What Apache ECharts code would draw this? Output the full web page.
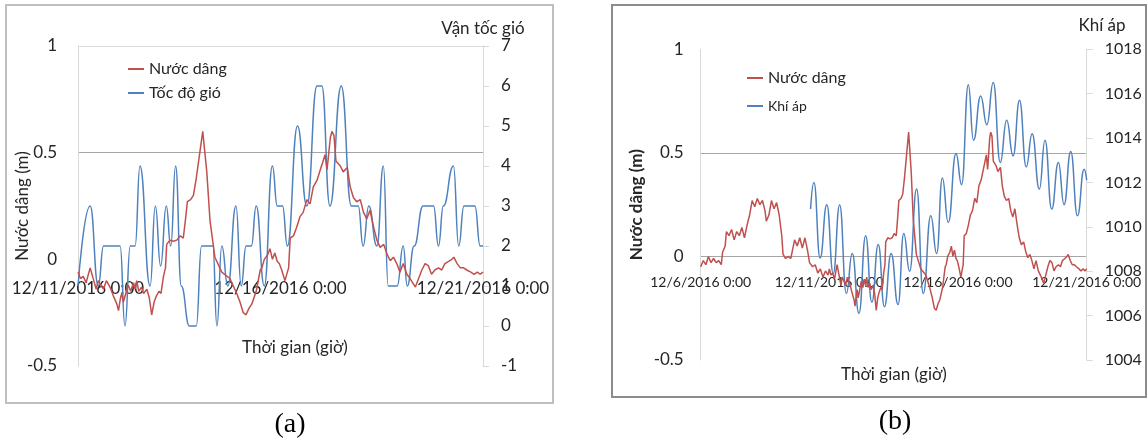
<!DOCTYPE html>
<html><head><meta charset="utf-8">
<script src="https://cdn.jsdelivr.net/npm/echarts@6/dist/echarts.min.js"></script>
<style>html,body{margin:0;padding:0;background:#fff}#c{width:1148px;height:440px}</style>
</head><body><div id="c"></div>
<script>
// x tick labels
const xTickLabelsA = ['12/11/2016 0:00', '12/16/2016 0:00', '12/21/2016 0:00'];
const xTickLabelsB = ['12/6/2016 0:00', '12/11/2016 0:00', '12/16/2016 0:00', '12/21/2016 0:00'];

// Nước dâng (m): days since 12/6/2016 0:00
const surgeDays = [0,0.1,0.2,0.3,0.4,0.5,0.6,0.7,0.8,0.85,0.95,1.0,1.1,1.2,1.3,1.4,1.5,1.6,1.7,1.8,1.9,2.0,2.1,2.2,2.3,2.4,2.5,2.55,2.65,2.75,2.85,2.95,3.05,3.15,3.2,3.3,3.4,3.5,3.6,3.65,3.75,3.85,3.95,4.05,4.15,4.23,4.35,4.45,4.55,4.65,4.75,4.85,4.95,
5,5.06,5.13,5.2,5.3,5.39,5.45,5.5,5.57,5.63,5.7,5.79,5.87,5.96,6.0,6.05,6.08,6.12,6.16,6.24,6.3,6.37,6.41,6.45,6.5,6.57,6.62,6.7,6.76,6.82,6.88,6.94,7.0,7.05,7.11,7.16,7.19,7.27,7.35,7.44,7.52,7.6,7.65,7.7,7.78,7.85,7.92,8.0,8.08,8.18,8.26,8.38,8.55,8.75,8.92,9.0,9.08,9.15,9.22,9.29,9.4,9.5,9.54,9.6,9.68,9.74,9.8,9.86,9.92,9.97,10.03,10.11,10.2,10.24,10.32,10.4,10.48,10.56,10.65,10.73,10.81,10.9,11.0,11.05,11.1,11.15,11.23,11.27,11.32,11.37,11.47,11.55,11.65,11.72,11.8,11.88,11.97,12.05,12.13,12.21,12.3,12.38,12.46,12.55,12.63,12.71,12.79,12.87,12.95,13.03,13.12,13.2,13.33,13.41,13.49,13.57,13.65,13.73,13.81,13.9,13.98,14.06,14.15,14.23,14.28,14.36,14.44,14.52,14.6,14.7,14.78,14.86,14.93,15.0];
const surgeValues = [-0.05,-0.02,-0.04,0.0,-0.03,-0.01,-0.03,-0.02,-0.04,0.02,0.05,0.12,0.1,0.13,0.08,0.12,0.1,0.14,0.09,0.15,0.2,0.27,0.24,0.28,0.25,0.27,0.22,0.17,0.2,0.27,0.23,0.26,0.2,0.1,0.01,-0.01,0.0,-0.01,0.05,0.08,0.05,0.09,0.04,0.09,0.03,-0.03,-0.05,-0.04,-0.08,-0.06,-0.1,-0.07,-0.09,
-0.06,-0.09,-0.08,-0.11,-0.04,-0.1,-0.14,-0.1,-0.12,-0.14,-0.1,-0.13,-0.17,-0.21,-0.24,-0.18,-0.16,-0.2,-0.2,-0.12,-0.15,-0.11,-0.14,-0.1,-0.15,-0.13,-0.16,-0.14,-0.18,-0.26,-0.2,-0.17,-0.15,-0.16,-0.08,-0.04,0.07,0.09,0.085,0.09,0.11,0.1,0.18,0.27,0.28,0.3,0.38,0.49,0.6,0.41,0.18,0.01,-0.06,-0.09,-0.16,-0.2,-0.25,-0.26,-0.23,-0.21,-0.15,-0.05,-0.04,0.0,0.02,0.05,0.0,0.03,-0.01,-0.02,-0.05,-0.1,-0.04,0.1,0.11,0.15,0.2,0.22,0.28,0.26,0.34,0.37,0.43,0.46,0.49,0.42,0.57,0.6,0.58,0.46,0.44,0.41,0.43,0.34,0.29,0.27,0.28,0.22,0.19,0.23,0.15,0.09,0.056,0.07,0.024,-0.006,0.01,-0.02,-0.06,-0.02,-0.07,-0.09,-0.13,-0.09,-0.05,-0.02,-0.03,-0.07,-0.05,-0.04,-0.05,-0.02,-0.01,0.0,0.01,-0.02,-0.04,-0.04,-0.05,-0.06,-0.07,-0.06,-0.07,-0.06];

// Tốc độ gió: days since 12/11/2016 0:00
const windDays = [0,0.3,0.5,0.63,1.04,1.16,1.29,1.41,1.53,1.78,1.91,2.04,2.18,2.29,2.41,2.55,2.75,2.92,3.05,3.33,3.43,3.55,3.7,3.9,4.03,4.15,4.28,4.4,4.6,4.8,4.92,5.05,5.17,5.42,5.65,5.9,6.02,6.22,6.5,6.75,6.92,7.04,7.18,7.38,7.54,7.66,7.88,8.03,8.13,8.3,8.52,8.78,8.9,9.02,9.27,9.4,9.53,9.8,9.93,10];
const windSpeed = [1,3,1,2,2,0,2,2,4,1,3,1.5,3,2,4,1,0,0,2,2,0,2,1,3,1,2,2,3,1,4,3,3,2,5,3,6,6,3,6,3,3,2,3,2,4,1,1,2,1,2,3,3,2,3,4,2,3,3,2,2];

// Khí áp: days since 12/6/2016 0:00
const pressureDays = [4.27,4.4,4.64,4.9,5.15,5.4,5.66,5.89,6.15,6.41,6.65,6.9,7.14,7.4,7.67,7.89,8.12,8.39,8.65,8.94,9.17,9.39,9.62,9.92,10.14,10.4,10.6,10.88,11.12,11.37,11.64,11.89,12.14,12.39,12.65,12.88,13.16,13.38,13.64,13.9,14.12,14.38,14.64,14.9,15.0];
const pressureValues = [1010.8,1012.0,1008.6,1011.0,1007.9,1011.0,1007.0,1008.8,1006.1,1009.6,1006.6,1009.2,1006.4,1008.8,1006.5,1009.7,1008.0,1011.7,1007.0,1010.5,1008.8,1012.2,1010.2,1013.3,1011.9,1016.4,1013.9,1015.9,1014.6,1016.5,1012.9,1014.8,1013.2,1015.7,1012.7,1014.2,1011.7,1013.9,1010.8,1012.9,1011.0,1013.4,1010.5,1012.6,1012.1];

const RED = '#c0504d', BLUE = '#4f81bd';
const FONT = 'Lato';
const TXT = '#262626';

const pairs = (xs, ys) => xs.map((x, i) => [x, ys[i]]);
const surgeB = pairs(surgeDays, surgeValues);
const surgeA = surgeDays.map((d, i) => [d - 5, surgeValues[i]]).filter(p => p[0] >= 0);
const windA = pairs(windDays, windSpeed);
const pressB = pairs(pressureDays, pressureValues);

const chart = echarts.init(document.getElementById('c'), null, {renderer: 'canvas'});

const baseLabel = {color: TXT, fontFamily: FONT, fontSize: 17};
const plain = v => String(v);

chart.setOption({
  backgroundColor: '#fff',
  animation: false,
  grid: [
    {left: 78, right: 1148 - 483, top: 46, bottom: 440 - 366, containLabel: false, outerBoundsMode: 'none'},
    {left: 700.7, right: 1148 - 1086.7, top: 49.3, bottom: 440 - 360, containLabel: false, outerBoundsMode: 'none'}
  ],
  xAxis: [
    {type: 'value', gridIndex: 0, min: 0, max: 10, interval: 5,
     axisLine: {show: false, onZero: false}, axisTick: {show: false}, splitLine: {show: false},
     axisLabel: Object.assign({}, baseLabel, {margin: -86, formatter: v => xTickLabelsA[Math.round(v / 5)]})},
    {type: 'value', gridIndex: 1, min: 0, max: 15, interval: 5,
     axisLine: {show: false, onZero: false}, axisTick: {show: false}, splitLine: {show: false},
     axisLabel: Object.assign({}, baseLabel, {fontSize: 14, margin: -85, formatter: v => xTickLabelsB[Math.round(v / 5)]})}
  ],
  yAxis: [
    {type: 'value', gridIndex: 0, position: 'left', min: -0.5, max: 1, interval: 0.5,
     axisLine: {show: true, onZero: false, lineStyle: {color: '#d9d9d9', width: 1}},
     axisTick: {show: false},
     axisLabel: Object.assign({}, baseLabel, {margin: 21, formatter: plain}),
     splitLine: {show: true, lineStyle: {color: ['rgba(0,0,0,0)', 'rgba(0,0,0,0)', '#a6a6a6', '#d9d9d9'], width: 1}},
     name: 'Nước dâng (m)', nameLocation: 'middle', nameRotate: 90, nameGap: 47, nameMoveOverlap: false,
     nameTextStyle: {color: TXT, fontFamily: FONT, fontSize: 17}},
    {type: 'value', gridIndex: 0, position: 'right', min: -1, max: 7, interval: 1,
     axisLine: {show: true, onZero: false, lineStyle: {color: '#d9d9d9', width: 1}},
     axisTick: {show: true, length: 6, lineStyle: {color: '#d9d9d9'}},
     axisLabel: Object.assign({}, baseLabel, {margin: 18, formatter: plain}),
     splitLine: {show: false}},
    {type: 'value', gridIndex: 1, position: 'left', min: -0.5, max: 1, interval: 0.5,
     axisLine: {show: true, onZero: false, lineStyle: {color: '#d9d9d9', width: 1}},
     axisTick: {show: false},
     axisLabel: Object.assign({}, baseLabel, {margin: 17, formatter: plain}),
     splitLine: {show: true, lineStyle: {color: ['rgba(0,0,0,0)', '#a6a6a6', '#a6a6a6', 'rgba(0,0,0,0)'], width: 1}},
     name: 'Nước dâng (m)', nameLocation: 'middle', nameRotate: 90, nameGap: 56, nameMoveOverlap: false,
     nameTextStyle: {color: TXT, fontFamily: FONT, fontSize: 17, fontWeight: 'bold'}},
    {type: 'value', gridIndex: 1, position: 'right', min: 1004, max: 1018, interval: 2,
     axisLine: {show: true, onZero: false, lineStyle: {color: '#d9d9d9', width: 1}},
     axisTick: {show: true, length: 6, lineStyle: {color: '#d9d9d9'}},
     axisLabel: Object.assign({}, baseLabel, {fontSize: 16, margin: 18, formatter: plain}),
     splitLine: {show: false}}
  ],
  legend: [
    {orient: 'vertical', left: 123, top: 54, itemWidth: 16, itemHeight: 2, itemGap: 4, icon: 'rect',
     data: ['Nước dâng', 'Tốc độ gió'],
     textStyle: {color: TXT, fontFamily: FONT, fontSize: 16, lineHeight: 20}},
    {orient: 'vertical', left: 742, top: 63, itemWidth: 16, itemHeight: 2, itemGap: 8, icon: 'rect',
     data: ['Nước dâng', 'Khí áp'],
     formatter: n => n === 'Khí áp' ? '{s|' + n + '}' : n,
     textStyle: {color: TXT, fontFamily: FONT, fontSize: 16, lineHeight: 20,
       rich: {s: {fontSize: 14, fontFamily: FONT, color: TXT}}}}
  ],
  series: [
    {name: 'Nước dâng', type: 'line', xAxisIndex: 0, yAxisIndex: 0, data: surgeA, showSymbol: false,
     lineStyle: {color: RED, width: 1.5}, itemStyle: {color: RED}, z: 3},
    {name: 'Tốc độ gió', type: 'line', xAxisIndex: 0, yAxisIndex: 1, data: windA, showSymbol: false,
     smooth: 0.5, smoothMonotone: 'x', lineStyle: {color: BLUE, width: 1.5}, itemStyle: {color: BLUE}, z: 2},
    {name: 'Nước dâng', type: 'line', xAxisIndex: 1, yAxisIndex: 2, data: surgeB, showSymbol: false,
     lineStyle: {color: RED, width: 1.5}, itemStyle: {color: RED}, z: 3},
    {name: 'Khí áp', type: 'line', xAxisIndex: 1, yAxisIndex: 3, data: pressB, showSymbol: false,
     smooth: 0.5, smoothMonotone: 'x', lineStyle: {color: BLUE, width: 1.5}, itemStyle: {color: BLUE}, z: 2}
  ],
  graphic: [
    {type: 'rect', shape: {x: 6, y: 5, width: 547, height: 398}, style: {fill: 'none', stroke: '#bfbfbf', lineWidth: 2}, silent: true},
    {type: 'rect', shape: {x: 612, y: 5, width: 534, height: 392}, style: {fill: 'none', stroke: '#8c8c8c', lineWidth: 2}, silent: true},
    {type: 'text', x: 483, y: 29, style: {text: 'Vận tốc gió', fill: TXT, font: '17px ' + FONT, align: 'center', verticalAlign: 'middle'}},
    {type: 'text', x: 1102, y: 26, style: {text: 'Khí áp', fill: TXT, font: '17px ' + FONT, align: 'center', verticalAlign: 'middle'}},
    {type: 'text', x: 295, y: 348, style: {text: 'Thời gian (giờ)', fill: TXT, font: '17px ' + FONT, align: 'center', verticalAlign: 'middle'}},
    {type: 'text', x: 894, y: 375, style: {text: 'Thời gian (giờ)', fill: TXT, font: '17px ' + FONT, align: 'center', verticalAlign: 'middle'}},
    {type: 'text', x: 290, y: 425, style: {text: '(a)', fill: '#000', font: '28px "Liberation Serif"', align: 'center', verticalAlign: 'middle'}},
    {type: 'text', x: 895, y: 422, style: {text: '(b)', fill: '#000', font: '28px "Liberation Serif"', align: 'center', verticalAlign: 'middle'}}
  ]
});
</script></body></html>
